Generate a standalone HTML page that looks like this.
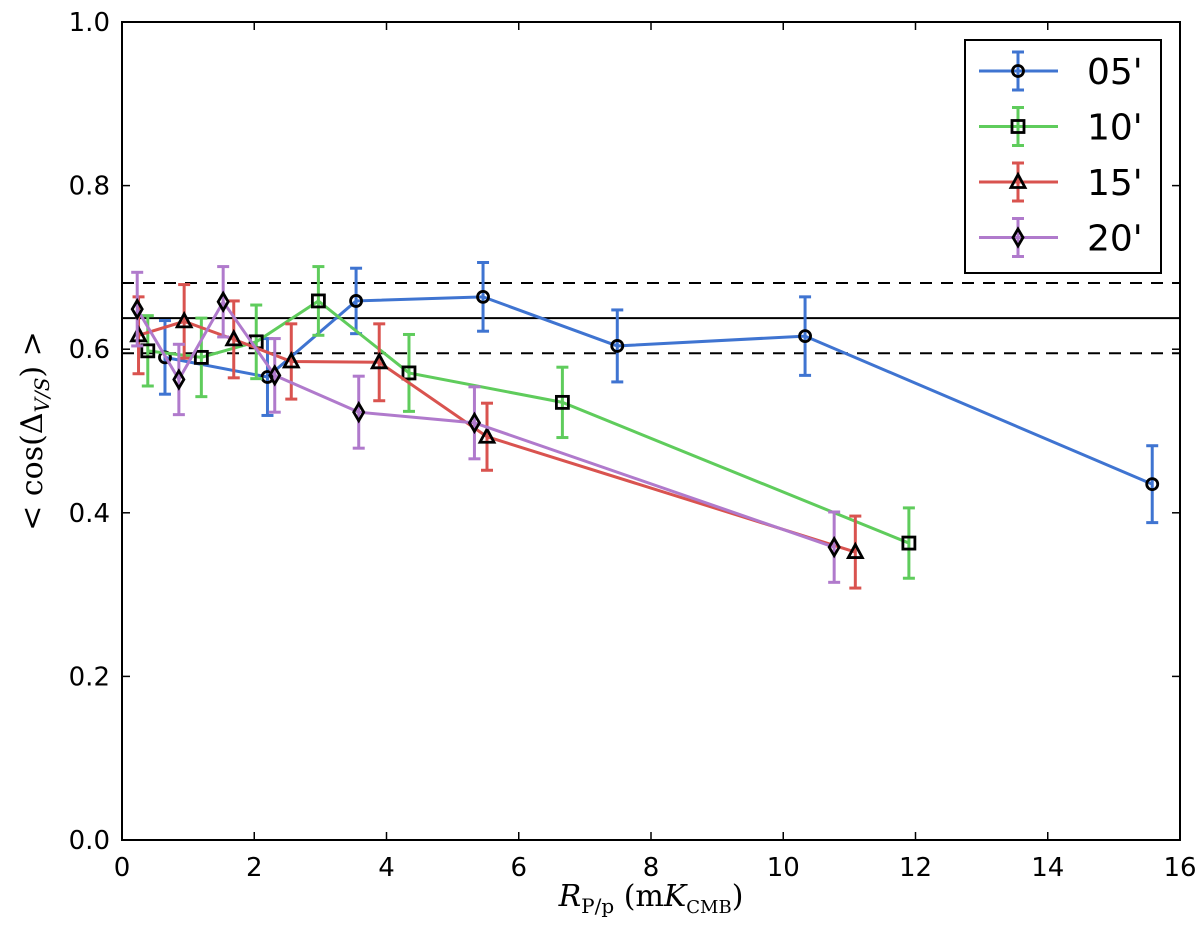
<!DOCTYPE html>
<html><head><meta charset="utf-8"><style>
body{margin:0;background:#fff}
svg text{font-family:"DejaVu Sans","Liberation Sans",sans-serif;fill:#000}
svg text.serif{font-family:"DejaVu Serif","Liberation Serif",serif}
</style></head><body>
<svg id="c" width="1200" height="941" xmlns="http://www.w3.org/2000/svg">
<rect width="1200" height="941" fill="#fff"/>
<g id="plot"></g>
</svg>
<script>
const xTicks=[0,2,4,6,8,10,12,14,16];
const yTicks=[0.0,0.2,0.4,0.6,0.8,1.0];
const seriesNames=["05'","10'","15'","20'"];
const x05=[0.65,2.2,3.54,5.46,7.49,10.33,15.58];
const y05=[0.590,0.566,0.659,0.664,0.604,0.616,0.435];
const e05=[0.045,0.047,0.040,0.042,0.044,0.048,0.047];
const x10=[0.39,1.2,2.03,2.97,4.34,6.66,11.9];
const y10=[0.598,0.590,0.609,0.659,0.571,0.535,0.363];
const e10=[0.043,0.048,0.045,0.042,0.047,0.043,0.043];
const x15=[0.25,0.94,1.69,2.56,3.89,5.52,11.09];
const y15=[0.617,0.634,0.612,0.585,0.584,0.493,0.352];
const e15=[0.047,0.045,0.047,0.046,0.047,0.041,0.044];
const x20=[0.23,0.86,1.53,2.31,3.58,5.33,10.77];
const y20=[0.649,0.563,0.658,0.568,0.523,0.510,0.358];
const e20=[0.045,0.043,0.043,0.045,0.044,0.044,0.043];
const refMean=0.638, refLo=0.595, refHi=0.681;

const L=122,R=1180,T=22,B=840;
const X=v=>L+(v-0)/(16-0)*(R-L);
const Y=v=>B-(v-0)/(1-0)*(B-T);
const NS="http://www.w3.org/2000/svg";
const g=document.getElementById('plot');
function mk(tag,at,parent){const e=document.createElementNS(NS,tag);for(const k in at)e.setAttribute(k,at[k]);(parent||g).appendChild(e);return e;}

let l=mk('line',{x1:L,x2:R,y1:Y(refMean),y2:Y(refMean),stroke:'#000','stroke-width':2});


[refLo,refHi].forEach(v=>{const d=mk('line',{x1:L,x2:R,y1:Y(v),y2:Y(v),stroke:'#000','stroke-width':2,'stroke-dasharray':'12,9'});

});

const cols=['#3f74d1','#5fcc5c','#d9534f','#b07acc'];
const data=[[x05,y05,e05],[x10,y10,e10],[x15,y15,e15],[x20,y20,e20]];
const mks=['circle','square','triangle','diamond'];
function marker(type,cx,cy,parent){
  const st={fill:'none',stroke:'#000','stroke-width':2.8};
  let e;
  if(type==='circle')e=mk('circle',Object.assign({cx,cy,r:5.5},st),parent);
  else if(type==='square')e=mk('rect',Object.assign({x:cx-6,y:cy-6,width:12,height:12},st),parent);
  else if(type==='triangle')e=mk('polygon',Object.assign({points:`${cx},${cy-7.5} ${cx-7},${cy+5.5} ${cx+7},${cy+5.5}`},st),parent);
  else e=mk('polygon',Object.assign({points:`${cx},${cy-8.5} ${cx-5},${cy} ${cx},${cy+8.5} ${cx+5},${cy}`},st),parent);
  return e;
}
data.forEach((d,si)=>{
  const sg=mk('g',{});
  
  
  const [xs,ys,es]=d;
  xs.forEach((xv,i)=>{
    const cx=X(xv),t=Y(ys[i]+es[i]),b=Y(ys[i]-es[i]);
    mk('line',{x1:cx,x2:cx,y1:t,y2:b,stroke:cols[si],'stroke-width':3},sg);
    mk('line',{x1:cx-6,x2:cx+6,y1:t,y2:t,stroke:cols[si],'stroke-width':3},sg);
    mk('line',{x1:cx-6,x2:cx+6,y1:b,y2:b,stroke:cols[si],'stroke-width':3},sg);
  });
  mk('polyline',{points:xs.map((xv,i)=>X(xv)+','+Y(ys[i])).join(' '),fill:'none',stroke:cols[si],'stroke-width':3},sg);
  xs.forEach((xv,i)=>{const m=marker(mks[si],X(xv),Y(ys[i]),sg);
    
    });
});

const fr=mk('rect',{x:L,y:T,width:R-L,height:B-T,fill:'none',stroke:'#000','stroke-width':2});


xTicks.forEach(v=>{
  mk('line',{x1:X(v),x2:X(v),y1:B,y2:B-8,stroke:'#000','stroke-width':1.5});
  mk('line',{x1:X(v),x2:X(v),y1:T,y2:T+8,stroke:'#000','stroke-width':1.5});
  const t=mk('text',{x:X(v),y:B+36,'text-anchor':'middle','font-size':26});t.textContent=v;
  
  
});
yTicks.forEach(v=>{
  mk('line',{x1:L,x2:L+8,y1:Y(v),y2:Y(v),stroke:'#000','stroke-width':1.5});
  mk('line',{x1:R,x2:R-8,y1:Y(v),y2:Y(v),stroke:'#000','stroke-width':1.5});
  const t=mk('text',{x:L-12,y:Y(v)+9,'text-anchor':'end','font-size':26});t.textContent=v.toFixed(1);
  
  
});
const xt=mk('text',{x:651,y:906,'text-anchor':'middle','font-size':30,'class':'serif'});
xt.innerHTML='<tspan font-style="italic">R</tspan><tspan font-size="20" dy="7">P/p</tspan><tspan dy="-7"> (m</tspan><tspan font-style="italic">K</tspan><tspan font-size="18" dy="7">CMB</tspan><tspan dy="-7">)</tspan>';


const yt=mk('text',{x:0,y:0,'text-anchor':'middle','font-size':30,'class':'serif',transform:'translate(42,431) rotate(-90)'});
yt.innerHTML='&lt; cos(Δ<tspan font-style="italic" font-size="20" dy="7">V/S</tspan><tspan dy="-7">) &gt;</tspan>';



const lg=mk('g',{});


mk('rect',{x:965,y:40,width:196,height:233,fill:'#fff',stroke:'#000','stroke-width':2},lg);
seriesNames.forEach((n,i)=>{
  const cy=71+i*55.5;
  const eg=mk('g',{},lg);
  
  
  mk('line',{x1:979,x2:1058,y1:cy,y2:cy,stroke:cols[i],'stroke-width':3},eg);
  mk('line',{x1:1018,x2:1018,y1:cy-19,y2:cy+19,stroke:cols[i],'stroke-width':3},eg);
  mk('line',{x1:1012,x2:1024,y1:cy-19,y2:cy-19,stroke:cols[i],'stroke-width':3},eg);
  mk('line',{x1:1012,x2:1024,y1:cy+19,y2:cy+19,stroke:cols[i],'stroke-width':3},eg);
  marker(mks[i],1018,cy,eg);
  const t=mk('text',{x:1087,y:cy+13,'font-size':36},eg);t.textContent=n;
});
</script>
</body></html>
